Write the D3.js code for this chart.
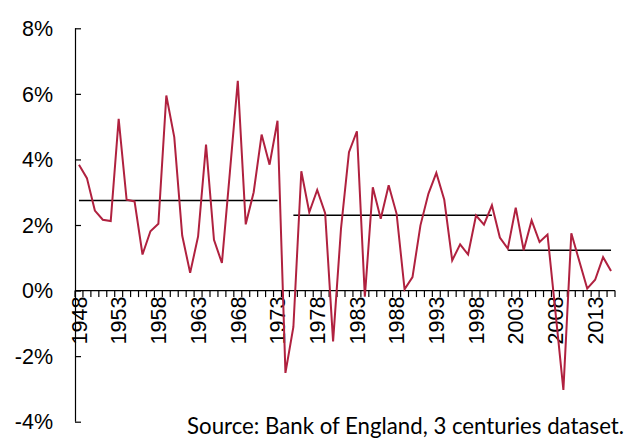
<!DOCTYPE html>
<html><head><meta charset="utf-8">
<script src="https://cdn.jsdelivr.net/npm/d3@7"></script>
<style>html,body{margin:0;padding:0;background:#fff;overflow:hidden}</style>
</head><body>
<script>
const years = [1948,1949,1950,1951,1952,1953,1954,1955,1956,1957,1958,1959,1960,1961,1962,1963,1964,1965,1966,1967,1968,1969,1970,1971,1972,1973,1974,1975,1976,1977,1978,1979,1980,1981,1982,1983,1984,1985,1986,1987,1988,1989,1990,1991,1992,1993,1994,1995,1996,1997,1998,1999,2000,2001,2002,2003,2004,2005,2006,2007,2008,2009,2010,2011,2012,2013,2014,2015];
const growth = [3.84,3.43,2.44,2.16,2.12,5.24,2.77,2.72,1.10,1.81,2.04,5.95,4.68,1.68,0.54,1.65,4.45,1.55,0.84,3.60,6.40,2.02,3.00,4.76,3.84,5.18,-2.51,-1.11,3.64,2.39,3.07,2.36,-1.55,1.90,4.22,4.86,-0.19,3.15,2.19,3.21,2.34,0.04,0.41,1.99,2.95,3.59,2.77,0.92,1.41,1.10,2.29,2.01,2.60,1.62,1.28,2.53,1.23,2.14,1.48,1.71,-0.65,-3.03,1.75,0.90,0.06,0.33,1.02,0.60];
const avgStart = [1948,1975,2002];
const avgEnd = [1973,2000,2015];
const avgValue = [2.75,2.30,1.23];
const yTicks = [-4,-2,0,2,4,6,8];
const xLabelYears = [1948,1953,1958,1963,1968,1973,1978,1983,1988,1993,1998,2003,2008,2013];
const sourceText = "Source: Bank of England, 3 centuries dataset.";

const W = 625, H = 439;
const svg = d3.select("body").append("svg").attr("width", W).attr("height", H)
  .style("display","block").style("background","#fff");

const x = d3.scaleBand().domain(years).range([75, 615]);
const y = d3.scaleLinear().domain([-4, 8]).range([421.7, 28.3]);
const cx = yr => x(yr) + x.bandwidth()/2;

// y axis
const yAxis = svg.append("g").attr("transform","translate(75,0)")
  .call(d3.axisRight(y).tickValues(yTicks).tickSize(6).tickFormat(""));
yAxis.select(".domain").attr("stroke","#000").attr("stroke-width",1.2).attr("d","M0.5,28.3V421.7");
yAxis.selectAll(".tick line").attr("stroke","#000").attr("stroke-width",1.2);

// y labels
svg.append("g").selectAll("text").data(yTicks).join("text")
  .attr("x", 53).attr("y", d => y(d)).attr("dy","0.36em")
  .attr("text-anchor","end")
  .style("font-family","'Liberation Sans', Arial, sans-serif").style("font-size","21.5px").attr("fill","#000")
  .text(d => d + "%");

// x axis at 0
const y0 = y(0);
svg.append("line").attr("x1",75).attr("x2",615).attr("y1",y0).attr("y2",y0)
  .attr("stroke","#000").attr("stroke-width",1.2);
const boundaries = years.map(yr => x(yr)).concat([x(years[years.length-1]) + x.bandwidth()]);
svg.append("g").selectAll("line").data(boundaries).join("line")
  .attr("x1", d => d).attr("x2", d => d).attr("y1", y0).attr("y2", y0 + 6.5)
  .attr("stroke","#000").attr("stroke-width",1.2);

// x labels
svg.append("g").selectAll("text").data(xLabelYears).join("text")
  .attr("transform", d => `translate(${cx(d)},${y0 + 6})rotate(-90)`)
  .attr("text-anchor","end").attr("dy","0.36em")
  .style("font-family","'Liberation Sans', Arial, sans-serif").style("font-size","21.5px").attr("fill","#000")
  .text(d => d);

// average lines
svg.append("g").selectAll("line").data(avgValue).join("line")
  .attr("x1", (d,i) => cx(avgStart[i])).attr("x2", (d,i) => cx(avgEnd[i]))
  .attr("y1", d => y(d)).attr("y2", d => y(d))
  .attr("stroke","#000").attr("stroke-width",1.5);

// growth line
const line = d3.line().x((d,i) => cx(years[i])).y(d => y(d));
svg.append("path").datum(growth).attr("d", line)
  .attr("fill","none").attr("stroke","#B0213F").attr("stroke-width",2).attr("stroke-linejoin","miter");

// source
const src = svg.append("text").attr("x", 624).attr("y", 434).attr("text-anchor","end")
  .style("font-family","Lato, 'Open Sans', sans-serif").style("font-size","20px").attr("fill","#000")
  .text(sourceText);
const len = src.node().getComputedTextLength();
src.style("font-size", (20 * 437 / len).toFixed(2) + "px");
</script>
</body></html>
